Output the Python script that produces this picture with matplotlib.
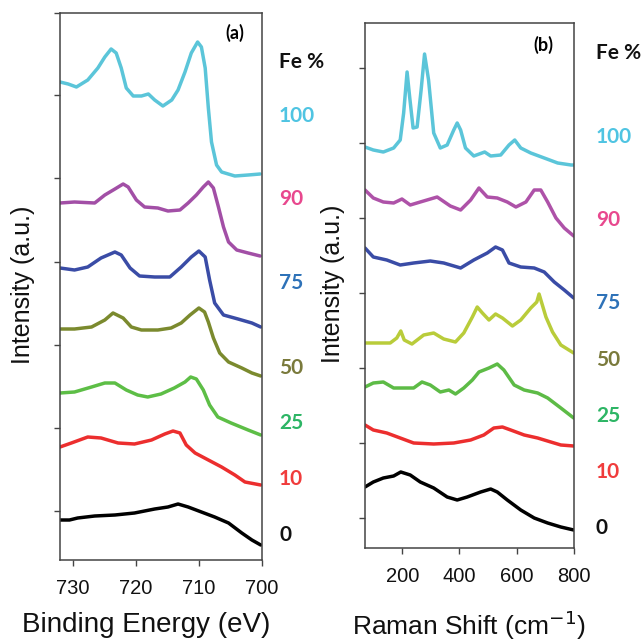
import matplotlib
matplotlib.use("Agg")
import matplotlib.pyplot as plt

plt.rcParams['font.family'] = ['Liberation Sans', 'DejaVu Sans']

# ---------------- data: panel (a) XPS Fe 2p (binding energy, eV) ----------------
xps_100_e = [732.0, 730.7, 729.4, 727.6, 726.0, 724.9, 723.9, 723.1, 722.3, 721.5, 720.4, 719.1, 718.0, 717.0,
             715.7, 714.3, 713.3, 712.2, 711.2, 710.2, 709.6, 709.0, 708.5, 708.0, 707.2, 706.4, 704.3, 702.2, 700.3]
xps_100_i = [478, 476, 473, 480, 492, 503, 511, 507, 492, 472, 464, 464, 466, 460,
             454, 460, 470, 488, 507, 518, 513, 492, 452, 418, 395, 388, 384, 385, 386]

xps_90_e = [732.0, 729.7, 726.5, 724.9, 723.3, 722.0, 721.2, 719.9, 718.6, 716.5, 714.9, 713.0, 711.7, 710.4,
            709.3, 708.5, 707.7, 706.9, 706.1, 705.3, 704.0, 702.2, 700.3]
xps_90_i = [357, 358, 357, 365, 371, 376, 373, 360, 353, 352, 349, 350, 357, 365,
            373, 378, 372, 353, 333, 318, 310, 307, 304]

xps_75_e = [732.0, 729.7, 727.6, 725.5, 723.3, 722.3, 720.9, 719.4, 717.0, 714.6, 712.8, 711.2, 710.0, 709.0,
            708.3, 707.5, 706.1, 703.8, 701.6, 700.2]
xps_75_i = [292, 290, 293, 302, 308, 305, 292, 284, 283, 283, 293, 303, 309, 303,
            280, 257, 245, 241, 237, 233]

xps_50_e = [732.0, 729.7, 727.0, 724.9, 723.6, 722.0, 720.7, 719.1, 716.5, 714.4, 712.8, 711.4, 710.0, 709.1,
            708.5, 707.7, 706.7, 705.3, 703.2, 701.6, 700.2]
xps_50_i = [231, 231, 233, 240, 247, 242, 233, 230, 230, 232, 237, 245, 252, 248,
            238, 222, 207, 198, 192, 187, 184]

xps_25_e = [732.0, 729.7, 727.0, 724.9, 723.3, 721.5, 719.7, 718.1, 716.0, 713.9, 712.2, 711.3, 710.4, 709.3,
            708.3, 707.0, 704.9, 702.2, 700.2]
xps_25_i = [167, 168, 173, 177, 177, 170, 165, 163, 166, 172, 178, 183, 181, 170,
            155, 143, 137, 130, 125]

xps_10_e = [732.0, 730.2, 727.6, 725.5, 722.8, 720.2, 717.5, 715.4, 714.1, 713.0, 712.0, 710.6, 708.5, 706.4,
            704.3, 702.7, 700.2]
xps_10_i = [113, 117, 123, 122, 117, 116, 120, 126, 129, 127, 115, 107, 100, 93,
            85, 78, 75]

xps_0_e = [732.0, 730.5, 729.2, 726.5, 723.3, 720.2, 717.0, 714.9, 713.3, 711.7, 709.6, 707.5, 705.3, 703.2,
           701.6, 700.2]
xps_0_i = [40, 40, 42, 44, 45, 47, 51, 53, 56, 53, 48, 43, 37, 27, 20, 15]

# ---------------- data: panel (b) Raman (shift, cm-1) ----------------
ram_100_w = [70, 99, 134, 170, 193, 205, 217, 226, 238, 252, 266, 278, 292, 310, 333, 357, 380, 392, 404,
             421, 450, 488, 509, 544, 573, 593, 614, 649, 696, 743, 790, 800]
ram_100_i = [401, 398, 396, 400, 408, 435, 476, 451, 420, 421, 458, 494, 468, 415, 400, 403, 418, 425, 418,
             400, 392, 396, 392, 393, 403, 408, 400, 395, 390, 385, 383, 383]

ram_90_w = [70, 99, 134, 170, 199, 228, 263, 322, 368, 404, 439, 468, 497, 532, 567, 597, 632, 661, 684,
            708, 737, 766, 799]
ram_90_i = [358, 350, 346, 345, 349, 343, 346, 351, 342, 338, 348, 360, 351, 350, 346, 341, 346, 358, 358,
            346, 330, 320, 312]

ram_75_w = [70, 99, 146, 193, 240, 298, 345, 404, 450, 497, 526, 550, 573, 614, 661, 696, 731, 766, 799]
ram_75_i = [300, 291, 288, 283, 285, 287, 285, 280, 288, 295, 301, 298, 285, 281, 280, 276, 266, 258, 250]

ram_50_w = [70, 123, 158, 181, 195, 207, 234, 275, 310, 345, 386, 415, 445, 462, 480, 503, 526, 550,
            585, 614, 649, 670, 678, 702, 725, 754, 799]
ram_50_i = [205, 205, 205, 210, 217, 208, 204, 213, 215, 209, 206, 215, 231, 241, 235, 228, 234, 230,
            222, 228, 240, 246, 254, 231, 216, 203, 195]

ram_25_w = [70, 99, 134, 170, 205, 240, 269, 298, 333, 363, 386, 415, 445, 468, 503, 532, 555, 591,
            626, 673, 708, 754, 799]
ram_25_i = [161, 165, 166, 160, 160, 160, 166, 163, 156, 158, 154, 160, 168, 176, 180, 184, 178, 163,
            158, 155, 150, 140, 130]

ram_10_w = [70, 99, 146, 193, 240, 310, 380, 439, 485, 520, 550, 579, 626, 673, 719, 754, 799]
ram_10_i = [123, 118, 115, 110, 105, 104, 105, 108, 113, 120, 121, 118, 113, 110, 106, 103, 102]

ram_0_w = [70, 99, 134, 170, 195, 228, 263, 310, 357, 392, 427, 474, 509, 532, 567, 614, 661, 708, 754, 799]
ram_0_i = [61, 66, 70, 72, 76, 73, 66, 60, 51, 48, 51, 56, 59, 56, 48, 38, 30, 25, 21, 18]

fe_labels = ["100", "90", "75", "50", "25", "10", "0"]
label_colors = ["#4FC4E2", "#E8488E", "#2E72B8", "#7A7A3C", "#2DB565", "#F03C3C", "#111111"]
colors_a = ["#5BC5D9", "#A24FA6", "#3A4CA6", "#7B8A2E", "#5DBE46", "#EC2E2E", "#000000"]
colors_b = ["#5BC5D9", "#AE52A8", "#3A4CA6", "#B9CC3A", "#5DBB46", "#EC2E2E", "#000000"]

xps_series = [(xps_100_e, xps_100_i), (xps_90_e, xps_90_i), (xps_75_e, xps_75_i), (xps_50_e, xps_50_i),
              (xps_25_e, xps_25_i), (xps_10_e, xps_10_i), (xps_0_e, xps_0_i)]
ram_series = [(ram_100_w, ram_100_i), (ram_90_w, ram_90_i), (ram_75_w, ram_75_i), (ram_50_w, ram_50_i),
              (ram_25_w, ram_25_i), (ram_10_w, ram_10_i), (ram_0_w, ram_0_i)]

xps_xticks = [730, 720, 710, 700]
ram_xticks = [200, 400, 600, 800]
xps_yticks = [49, 132, 215, 298, 382, 465, 547]
ram_yticks = [30, 105, 180, 255, 330, 405, 480]

W = H = 643
fig = plt.figure(figsize=(6.43, 6.43), dpi=100)

def axes_px(l, t, r, b):
    return fig.add_axes([l / W, 1 - b / H, (r - l) / W, (b - t) / H])

axa = axes_px(60, 13, 262, 560)
axb = axes_px(365, 23, 574, 548)

for (x, y), c in zip(xps_series, colors_a):
    axa.plot(x, y, color=c, lw=2.5, solid_joinstyle='round', solid_capstyle='round')
for (x, y), c in zip(ram_series, colors_b):
    axb.plot(x, y, color=c, lw=2.5, solid_joinstyle='round', solid_capstyle='round')

axa.set_xlim(732, 700)
axa.set_ylim(0, 547)
axb.set_xlim(70, 800)
axb.set_ylim(0, 525)
axa.set_xticks(xps_xticks)
axb.set_xticks(ram_xticks)
axa.set_yticks(xps_yticks)
axb.set_yticks(ram_yticks)

for ax in (axa, axb):
    ax.tick_params(axis='y', labelleft=False, direction='out', length=4, width=1, color='#444444')
    ax.tick_params(axis='x', direction='out', length=4, width=1, color='#444444',
                   labelsize=14.5, pad=10, labelcolor='#111111')
    for s in ax.spines.values():
        s.set_color('#444444')
        s.set_linewidth(1.1)

fig.text(23 / W, 1 - 285 / H, "Intensity (a.u.)", rotation=90, ha='center', va='center',
         fontsize=18, color='#111111')
fig.text(333 / W, 1 - 284 / H, "Intensity (a.u.)", rotation=90, ha='center', va='center',
         fontsize=18, color='#111111')
fig.text(146 / W, 1 - 625 / H, "Binding Energy (eV)", ha='center', va='center',
         fontsize=20, color='#111111')
fig.text(469 / W, 1 - 625 / H, "Raman Shift (cm$^{-1}$)", ha='center', va='center',
         fontsize=19, color='#111111')

fig.text(235 / W, 1 - 33 / H, "(a)", ha='center', va='center', fontsize=13,
         fontweight='bold', family=['Lato', 'DejaVu Sans'])
fig.text(543 / W, 1 - 45 / H, "(b)", ha='center', va='center', fontsize=13,
         fontweight='bold', family=['Lato', 'DejaVu Sans'])

label_y_a = [116, 199, 283, 368, 423, 479, 535]
label_y_b = [137, 220, 303, 360, 416, 472, 528]
fig.text(279 / W, 1 - 62 / H, "Fe %", ha='left', va='center', fontsize=15,
         fontweight='bold', family=['Lato', 'DejaVu Sans'], color='#111111')
fig.text(596 / W, 1 - 53 / H, "Fe %", ha='left', va='center', fontsize=15,
         fontweight='bold', family=['Lato', 'DejaVu Sans'], color='#111111')
for lab, col, ya, yb in zip(fe_labels, label_colors, label_y_a, label_y_b):
    fig.text(279 / W, 1 - ya / H, lab, ha='left', va='center', fontsize=15,
             fontweight='bold', family=['Lato', 'DejaVu Sans'], color=col)
    fig.text(596 / W, 1 - yb / H, lab, ha='left', va='center', fontsize=15,
             fontweight='bold', family=['Lato', 'DejaVu Sans'], color=col)

fig.savefig("out.png", dpi=100)
